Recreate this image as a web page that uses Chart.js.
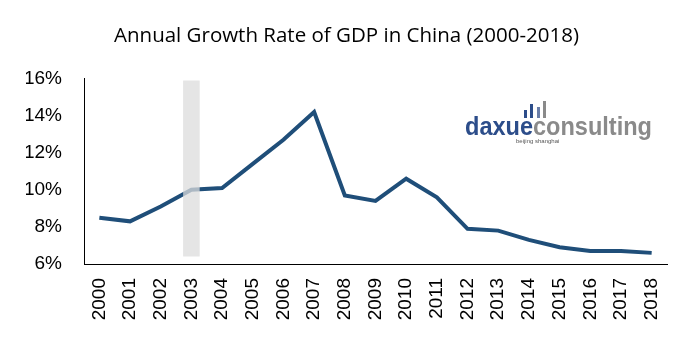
<!DOCTYPE html>
<html>
<head>
<meta charset="utf-8">
<script src="https://cdn.jsdelivr.net/npm/chart.js@4"></script>
<style>
  html, body { margin: 0; padding: 0; background: #fff; }
  #wrap { width: 691px; height: 348px; }
</style>
</head>
<body>
<div id="wrap"><canvas id="myChart" width="691" height="348"></canvas></div>
<script>
var years = ["2000","2001","2002","2003","2004","2005","2006","2007","2008","2009",
             "2010","2011","2012","2013","2014","2015","2016","2017","2018"];
var gdpGrowth = [8.5, 8.3, 9.1, 10.0, 10.1, 11.4, 12.7, 14.2, 9.7, 9.4,
                 10.6, 9.6, 7.9, 7.8, 7.3, 6.9, 6.7, 6.7, 6.6];
var highlightYear = "2003";
var highlightRange = [6.4, 15.9];
var yTicks = [6, 8, 10, 12, 14, 16];

// grey band only on the highlighted year
var bandData = years.map(function (y) { return y === highlightYear ? highlightRange : null; });

// logo watermark drawn as text
var logoPlugin = {
  id: 'logo',
  afterDatasetsDraw: function (chart) {
    var ctx = chart.ctx;
    ctx.save();
    ctx.font = 'bold 25px "Liberation Sans", Arial, sans-serif';
    var w1 = ctx.measureText('daxue').width;
    var w2 = ctx.measureText('consulting').width;
    var scale = 187 / (w1 + w2);
    var x0 = 465, base = 135;
    ctx.translate(x0, base);
    ctx.scale(scale, 1);
    ctx.textBaseline = 'alphabetic';
    ctx.fillStyle = '#2c4d8a';
    ctx.fillText('daxue', 0, 0);
    ctx.fillStyle = '#8a8a8a';
    ctx.fillText('consulting', w1, 0);
    ctx.restore();

    // small bars icon
    ctx.save();
    ctx.fillStyle = '#2c4d8a';
    ctx.fillRect(524, 110, 3, 8);
    ctx.fillRect(530, 104, 3, 14);
    ctx.fillStyle = '#6a7ea8';
    ctx.fillRect(537, 107, 3, 11);
    ctx.fillStyle = '#8a8a8a';
    ctx.fillRect(543, 101, 3, 17);
    ctx.font = '6px "Liberation Sans", Arial, sans-serif';
    ctx.fillStyle = '#555';
    ctx.fillText('beijing shanghai', 516, 143);
    ctx.restore();
  }
};

new Chart(document.getElementById('myChart'), {
  type: 'line',
  data: {
    labels: years,
    datasets: [
      {
        type: 'bar',
        data: bandData,
        backgroundColor: 'rgba(220,220,220,0.75)',
        borderWidth: 0,
        barPercentage: 0.54,
        categoryPercentage: 1,
        order: 0
      },
      {
        type: 'line',
        data: gdpGrowth,
        borderColor: '#1f4e79',
        borderWidth: 4,
        pointRadius: 0,
        tension: 0,
        fill: false,
        order: 1
      }
    ]
  },
  options: {
    responsive: false,
    animation: false,
    layout: { padding: { left: 26, right: 24, top: 0, bottom: 0 } },
    plugins: {
      legend: { display: false },
      tooltip: { enabled: false },
      title: {
        display: true,
        text: 'Annual Growth Rate of GDP in China (2000-2018)',
        color: '#000',
        font: { family: '"Open Sans", sans-serif', size: 20.5, weight: 'normal' },
        padding: { top: 24, bottom: 30 }
      }
    },
    scales: {
      x: {
        offset: true,
        grid: { display: false, drawTicks: false },
        border: { display: true, color: '#000', width: 1 },
        ticks: {
          color: '#000',
          minRotation: 90,
          maxRotation: 90,
          padding: 14,
          font: { family: '"Liberation Sans", Arial, sans-serif', size: 19 }
        },
        afterFit: function (s) { s.height = 84; }
      },
      y: {
        min: 6,
        max: 16,
        afterBuildTicks: function (s) { s.ticks = yTicks.map(function (v) { return { value: v }; }); },
        grid: { display: false, drawTicks: false },
        border: { display: true, color: '#000', width: 1 },
        ticks: {
          color: '#000',
          padding: 22,
          font: { family: '"Liberation Sans", Arial, sans-serif', size: 19 },
          callback: function (v) { return v + '%'; }
        },
        afterFit: function (s) { s.width = 58; }
      }
    }
  },
  plugins: [logoPlugin]
});
</script>
</body>
</html>
